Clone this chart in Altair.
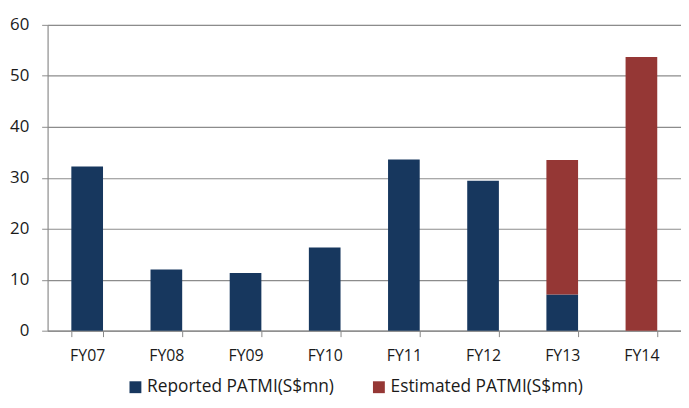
import altair as alt
import pandas as pd

years = ["FY07", "FY08", "FY09", "FY10", "FY11", "FY12", "FY13", "FY14"]
reported = [32.2, 12.0, 11.3, 16.3, 33.6, 29.4, 7.1, 0.0]
estimated = [0.0, 0.0, 0.0, 0.0, 0.0, 0.0, 26.4, 53.7]
series = ["Reported PATMI(S$mn)", "Estimated PATMI(S$mn)"]
colors = ["#17375E", "#953735"]

rows = []
for i, y in enumerate(years):
    rows.append({"year": y, "series": series[0], "value": reported[i], "ord": 0})
    rows.append({"year": y, "series": series[1], "value": estimated[i], "ord": 1})
df = pd.DataFrame(rows)

font = "Open Sans"

chart = alt.Chart(df).mark_bar(stroke=None).encode(
    x=alt.X("year:N", sort=years, title=None,
            scale=alt.Scale(paddingInner=0.6, paddingOuter=0.3),
            axis=alt.Axis(labelAngle=0, labelFont=font, labelFontSize=16, labelColor="#1a1a1a",
                          tickBand="extent", tickColor="#888888", tickSize=6,
                          domainColor="#888888", labelPadding=11, grid=False)),
    y=alt.Y("value:Q", title=None, stack="zero",
            scale=alt.Scale(domain=[0, 60], nice=False),
            axis=alt.Axis(values=[0, 10, 20, 30, 40, 50, 60], labelFont=font, labelFontSize=17,
                          labelColor="#1a1a1a", gridColor="#8c8c8c", gridWidth=1.2,
                          tickColor="#8c8c8c", tickSize=6, domainColor="#888888", labelPadding=13)),
    color=alt.Color("series:N", sort=series,
                    scale=alt.Scale(domain=series, range=colors),
                    legend=alt.Legend(title=None, orient="none", direction="horizontal",
                                      legendX=80, legendY=357, symbolType="square",
                                      symbolSize=144, symbolStrokeWidth=0, padding=0,
                                      labelFont=font, labelFontSize=17.5, labelColor="#1a1a1a",
                                      labelLimit=0, columnPadding=36, symbolOffset=0,
                                      labelOffset=3)),
    order=alt.Order("ord:Q"),
).properties(
    width=640, height=309,
    autosize=alt.AutoSizeParams(type="none"),
    padding={"left": 40, "top": 15, "right": 0, "bottom": 68},
).configure_view(stroke=None).configure(background="white")

chart.save("out.html", embed_options={"renderer": "svg", "actions": False})
